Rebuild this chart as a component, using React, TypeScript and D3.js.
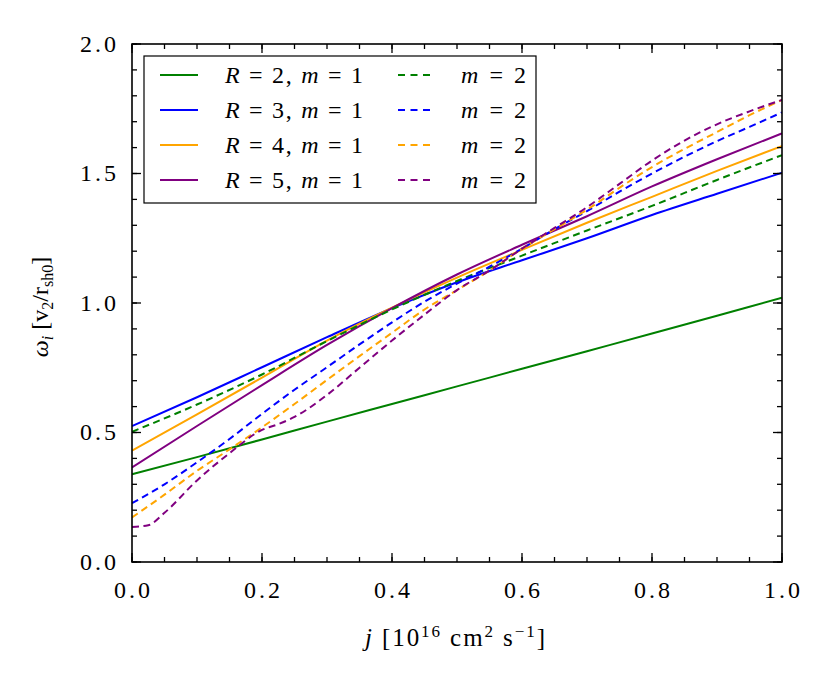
import * as d3 from "d3";

// j grid [10^16 cm^2 s^-1]
const jCoarse = [0, 0.1, 0.2, 0.3, 0.4, 0.5, 0.6, 0.7, 0.8, 0.9, 1.0];
const jFine = [0, 0.05, 0.1, 0.15, 0.2, 0.25, 0.3, 0.35, 0.4, 0.45, 0.5, 0.55, 0.6, 0.65, 0.7, 0.75, 0.8, 0.85, 0.9, 0.95, 1.0];
const jPurpleDash = [0, 0.025, 0.05, 0.1, 0.15, 0.2, 0.225, 0.25, 0.3, 0.35, 0.4, 0.45, 0.5, 0.55, 0.6, 0.65, 0.7, 0.75, 0.8, 0.85, 0.9, 0.95, 1.0];

// omega_i [v2 / r_sh0], m = 1 (solid)
const omegaR2m1 = [0.339, 0.405, 0.473, 0.542, 0.61, 0.678, 0.746, 0.814, 0.882, 0.951, 1.02];
const omegaR3m1 = [0.525, 0.636, 0.752, 0.868, 0.98, 1.08, 1.165, 1.25, 1.34, 1.422, 1.503];
const omegaR4m1 = [0.43, 0.57, 0.712, 0.855, 0.982, 1.098, 1.205, 1.31, 1.41, 1.51, 1.606];
const omegaR5m1 = [0.365, 0.525, 0.683, 0.838, 0.98, 1.11, 1.225, 1.335, 1.45, 1.555, 1.655];

// m = 2 (dashed)
const omegaR2m2 = [0.503, 0.608, 0.724, 0.853, 0.975, 1.085, 1.183, 1.28, 1.375, 1.475, 1.571];
const omegaR3m2 = [0.227, 0.3, 0.385, 0.475, 0.572, 0.665, 0.752, 0.84, 0.925, 1.005, 1.075, 1.14, 1.21, 1.285, 1.355, 1.43, 1.5, 1.565, 1.625, 1.68, 1.736];
const omegaR4m2 = [0.172, 0.26, 0.352, 0.435, 0.52, 0.61, 0.703, 0.795, 0.885, 0.975, 1.05, 1.125, 1.21, 1.285, 1.36, 1.445, 1.525, 1.595, 1.66, 1.725, 1.784];
const omegaR5m2 = [0.135, 0.142, 0.19, 0.315, 0.42, 0.51, 0.532, 0.56, 0.645, 0.75, 0.855, 0.955, 1.05, 1.125, 1.21, 1.29, 1.37, 1.46, 1.55, 1.627, 1.69, 1.74, 1.784];

const xMajorTicks = [0, 0.2, 0.4, 0.6, 0.8, 1.0];
const yMajorTicks = [0, 0.5, 1.0, 1.5, 2.0];

const GREEN = "#008000";
const BLUE = "#0000ff";
const ORANGE = "#ffa500";
const PURPLE = "#800080";

type Series = { R: number; m: number; xs: number[]; ys: number[]; color: string; dashed: boolean };

const series: Series[] = [
  { R: 2, m: 1, xs: jCoarse, ys: omegaR2m1, color: GREEN, dashed: false },
  { R: 3, m: 1, xs: jCoarse, ys: omegaR3m1, color: BLUE, dashed: false },
  { R: 4, m: 1, xs: jCoarse, ys: omegaR4m1, color: ORANGE, dashed: false },
  { R: 5, m: 1, xs: jCoarse, ys: omegaR5m1, color: PURPLE, dashed: false },
  { R: 2, m: 2, xs: jCoarse, ys: omegaR2m2, color: GREEN, dashed: true },
  { R: 3, m: 2, xs: jFine, ys: omegaR3m2, color: BLUE, dashed: true },
  { R: 4, m: 2, xs: jFine, ys: omegaR4m2, color: ORANGE, dashed: true },
  { R: 5, m: 2, xs: jPurpleDash, ys: omegaR5m2, color: PURPLE, dashed: true },
];

const FONT = "Liberation Serif, DejaVu Serif, Times New Roman, serif";
const DASH = "7,4.5";

export default function App() {
  const width = 831;
  const height = 687;
  const margin = { top: 44, right: 49, bottom: 125, left: 132 };
  const x0 = margin.left;
  const x1 = width - margin.right;
  const y0 = height - margin.bottom;
  const y1 = margin.top;

  const x = d3.scaleLinear().domain([0, 1]).range([x0, x1]);
  const y = d3.scaleLinear().domain([0, 2]).range([y0, y1]);

  const line = (s: Series) =>
    d3
      .line<number>()
      .x((_, i) => x(s.xs[i]))
      .y((d) => y(d))
      .curve(d3.curveMonotoneX)(s.ys) ?? "";

  const xMinor = d3.range(0, 1.0001, 0.05);
  const yMinor = d3.range(0, 2.0001, 0.1);
  const fmt = d3.format(".1f");
  const major = 9;
  const minor = 5;

  // legend layout
  const lg = { x: 144, y: 56, w: 392, h: 147 };
  const rowY = (k: number) => 75 + k * 35;

  return (
    <div style={{ position: "absolute", left: 0, top: 0 }}>
      <svg width={width} height={height} style={{ display: "block", background: "#fff", fontFamily: FONT }}>
        <defs>
          <clipPath id="plot">
            <rect x={x0} y={y1} width={x1 - x0} height={y0 - y1} />
          </clipPath>
        </defs>

        <g clipPath="url(#plot)" fill="none" strokeWidth={2}>
          {series.map((s, i) => (
            <path key={i} d={line(s)} stroke={s.color} strokeDasharray={s.dashed ? DASH : undefined} />
          ))}
        </g>

        {/* ticks, all four sides, pointing in */}
        <g stroke="#000" strokeWidth={1.3}>
          {xMinor.map((t, i) => (
            <g key={"xm" + i}>
              <line x1={x(t)} x2={x(t)} y1={y0} y2={y0 - minor} />
              <line x1={x(t)} x2={x(t)} y1={y1} y2={y1 + minor} />
            </g>
          ))}
          {xMajorTicks.map((t, i) => (
            <g key={"xM" + i}>
              <line x1={x(t)} x2={x(t)} y1={y0} y2={y0 - major} />
              <line x1={x(t)} x2={x(t)} y1={y1} y2={y1 + major} />
            </g>
          ))}
          {yMinor.map((t, i) => (
            <g key={"ym" + i}>
              <line x1={x0} x2={x0 + minor} y1={y(t)} y2={y(t)} />
              <line x1={x1} x2={x1 - minor} y1={y(t)} y2={y(t)} />
            </g>
          ))}
          {yMajorTicks.map((t, i) => (
            <g key={"yM" + i}>
              <line x1={x0} x2={x0 + major} y1={y(t)} y2={y(t)} />
              <line x1={x1} x2={x1 - major} y1={y(t)} y2={y(t)} />
            </g>
          ))}
        </g>
        <rect x={x0} y={y1} width={x1 - x0} height={y0 - y1} fill="none" stroke="#000" strokeWidth={1.6} />

        {/* tick labels */}
        <g fontSize={24} fill="#000">
          {xMajorTicks.map((t, i) => (
            <text key={"xl" + i} x={x(t)} y={y0 + 36} textAnchor="middle" textLength={36} lengthAdjust="spacing">
              {fmt(t)}
            </text>
          ))}
          {yMajorTicks.map((t, i) => (
            <text key={"yl" + i} x={x0 - 52} y={y(t)} dy="0.33em" textLength={36} lengthAdjust="spacing">
              {fmt(t)}
            </text>
          ))}
        </g>

        {/* axis titles */}
        <text x={365} y={646} fontSize={25} fill="#000" textLength={180} lengthAdjust="spacing">
          <tspan fontStyle="italic">j</tspan>
          <tspan> [10</tspan>
          <tspan fontSize={17} dy={-9}>16</tspan>
          <tspan dy={9}> cm</tspan>
          <tspan fontSize={17} dy={-9}>2</tspan>
          <tspan dy={9}> s</tspan>
          <tspan fontSize={17} dy={-9}>−1</tspan>
          <tspan dy={9}>]</tspan>
        </text>
        <text
          transform={`translate(48,${(y0 + y1) / 2 + 4}) rotate(-90)`}
          textAnchor="middle"
          fontSize={24}
          fill="#000"
        >
          <tspan fontStyle="italic">ω</tspan>
          <tspan fontStyle="italic" fontSize={16} dy={5}>i</tspan>
          <tspan dy={-5}> [v</tspan>
          <tspan fontSize={16} dy={5}>2</tspan>
          <tspan dy={-5}>/r</tspan>
          <tspan fontSize={16} dy={5}>sh0</tspan>
          <tspan dy={-5}>]</tspan>
        </text>

        {/* legend */}
        <rect x={lg.x} y={lg.y} width={lg.w} height={lg.h} fill="#fff" stroke="#000" strokeWidth={1.2} />
        <g fontSize={24} fill="#000">
          {series.slice(0, 4).map((s, k) => (
            <g key={"l1" + k}>
              <line x1={160} x2={198} y1={rowY(k)} y2={rowY(k)} stroke={s.color} strokeWidth={2} />
              <text x={225} y={rowY(k)} dy="0.35em" textLength={138} lengthAdjust="spacing">
                <tspan fontStyle="italic">R</tspan>
                <tspan> = {s.R}, </tspan>
                <tspan fontStyle="italic">m</tspan>
                <tspan> = {s.m}</tspan>
              </text>
            </g>
          ))}
          {series.slice(4).map((s, k) => (
            <g key={"l2" + k}>
              <line x1={398} x2={431} y1={rowY(k)} y2={rowY(k)} stroke={s.color} strokeWidth={2} strokeDasharray="7,5.5" />
              <text x={461} y={rowY(k)} dy="0.35em" textLength={65} lengthAdjust="spacing">
                <tspan fontStyle="italic">m</tspan>
                <tspan> = {s.m}</tspan>
              </text>
            </g>
          ))}
        </g>
      </svg>
    </div>
  );
}
